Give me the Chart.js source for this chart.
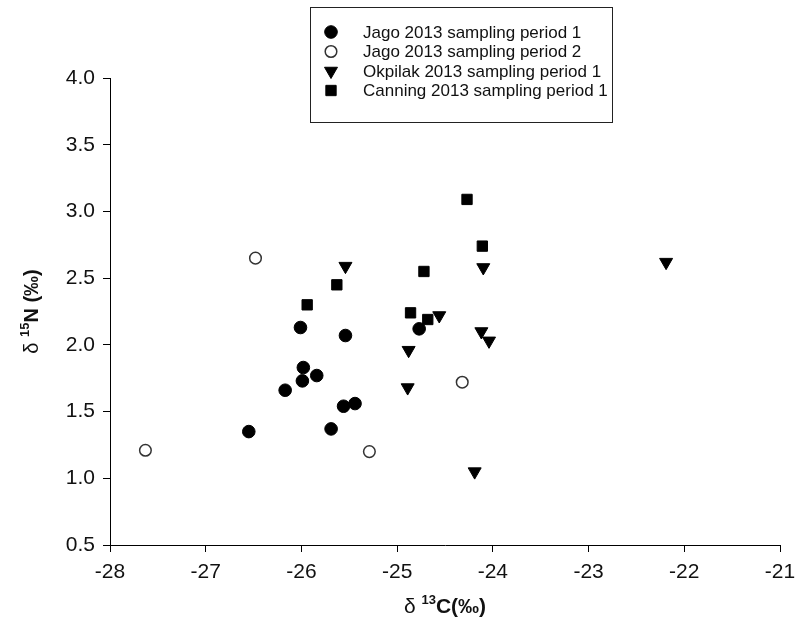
<!DOCTYPE html>
<html>
<head>
<meta charset="utf-8">
<script src="https://cdn.jsdelivr.net/npm/chart.js@4/dist/chart.umd.min.js"></script>
<style>
  html, body { margin: 0; padding: 0; background: #fff; }
  #c { display: block; }
</style>
</head>
<body>
<canvas id="c" width="796" height="636"></canvas>
<script>
// ---- data ----
const seriesLabels = [
  'Jago 2013 sampling period 1',
  'Jago 2013 sampling period 2',
  'Okpilak 2013 sampling period 1',
  'Canning 2013 sampling period 1'
];
const jago1X = [-26.55, -26.01, -25.54, -25.98, -25.84, -25.99, -26.17, -25.44, -25.56, -25.69, -24.77];
const jago1Y = [1.35, 2.13, 2.07, 1.83, 1.77, 1.73, 1.66, 1.56, 1.54, 1.37, 2.12];
const jago2X = [-27.63, -26.48, -25.29, -24.32];
const jago2Y = [1.21, 2.65, 1.20, 1.72];
const okpX = [-25.54, -24.10, -24.56, -24.12, -24.04, -24.88, -24.89, -24.19, -22.19];
const okpY = [2.59, 2.58, 2.22, 2.10, 2.03, 1.96, 1.68, 1.05, 2.62];
const canX = [-24.27, -24.11, -24.72, -25.63, -25.94, -24.86, -24.68];
const canY = [3.09, 2.74, 2.55, 2.45, 2.30, 2.24, 2.19];
const xTicks = [-28, -27, -26, -25, -24, -23, -22, -21];
const yTicks = [0.5, 1.0, 1.5, 2.0, 2.5, 3.0, 3.5, 4.0];

const toPts = (xs, ys) => xs.map((x, i) => ({ x: x, y: ys[i] }));

const FONT = "'Liberation Sans', Arial, sans-serif";

const datasets = [
  { label: seriesLabels[0], data: toPts(jago1X, jago1Y), pointStyle: 'circle', radius: 6.3,
    backgroundColor: '#000', borderColor: '#000', borderWidth: 1 },
  { label: seriesLabels[1], data: toPts(jago2X, jago2Y), pointStyle: 'circle', radius: 5.8,
    backgroundColor: '#fff', borderColor: '#333', borderWidth: 1.5 },
  { label: seriesLabels[2], data: toPts(okpX, okpY), pointStyle: 'triangle', rotation: 180, radius: 7.5,
    backgroundColor: '#000', borderColor: '#000', borderWidth: 1 },
  { label: seriesLabels[3], data: toPts(canX, canY), pointStyle: 'rect', radius: 7.3,
    backgroundColor: '#000', borderColor: '#000', borderWidth: 1 }
];
datasets.forEach(d => { d.pointRadius = d.radius; d.pointRotation = d.rotation || 0; d.pointHoverRadius = d.radius; });

function drawMarker(ctx, style, x, y, r, fill, stroke, lw) {
  ctx.save();
  ctx.beginPath();
  if (style === 'circle') {
    ctx.arc(x, y, r, 0, Math.PI * 2);
  } else if (style === 'triangle') {
    const h = Math.sqrt(3) / 2 * r;
    ctx.moveTo(x, y + r);
    ctx.lineTo(x - h, y - r / 2);
    ctx.lineTo(x + h, y - r / 2);
    ctx.closePath();
  } else {
    const s = Math.SQRT1_2 * r;
    ctx.rect(x - s, y - s, 2 * s, 2 * s);
  }
  ctx.fillStyle = fill; ctx.fill();
  ctx.lineWidth = lw; ctx.strokeStyle = stroke; ctx.stroke();
  ctx.restore();
}

function drawRich(ctx, parts, cx, cy) {
  let total = 0;
  parts.forEach(p => { ctx.font = p.font; p.w = ctx.measureText(p.t).width; total += p.w; });
  let x = cx - total / 2;
  ctx.textBaseline = 'middle';
  ctx.textAlign = 'left';
  parts.forEach(p => { ctx.font = p.font; ctx.fillText(p.t, x, cy + (p.dy || 0)); x += p.w; });
}

const decorPlugin = {
  id: 'decor',
  afterDraw(chart) {
    const ctx = chart.ctx;
    const ca = chart.chartArea;
    ctx.save();
    ctx.fillStyle = '#111';
    // x title
    drawRich(ctx, [
      { t: 'δ ', font: `21px ${FONT}` },
      { t: '13', font: `bold 13px ${FONT}`, dy: -7 },
      { t: 'C(‰)', font: `bold 21px ${FONT}` }
    ], (ca.left + ca.right) / 2, 607);
    // y title
    ctx.save();
    ctx.translate(32, (ca.top + ca.bottom) / 2);
    ctx.rotate(-Math.PI / 2);
    drawRich(ctx, [
      { t: 'δ ', font: `20px ${FONT}` },
      { t: '15', font: `bold 13px ${FONT}`, dy: -7 },
      { t: 'N (‰)', font: `bold 20px ${FONT}` }
    ], 0, 0);
    ctx.restore();
    // legend box
    ctx.strokeStyle = '#222';
    ctx.lineWidth = 1;
    ctx.strokeRect(310.5, 7.5, 302, 115);
    const rows = [32, 51.5, 71, 90.5];
    chart.data.datasets.forEach((d, i) => {
      drawMarker(ctx, d.pointStyle, 331, rows[i], d.radius, d.backgroundColor, d.borderColor, d.borderWidth);
      ctx.fillStyle = '#111';
      ctx.font = `17px ${FONT}`;
      ctx.textAlign = 'left';
      ctx.textBaseline = 'middle';
      ctx.fillText(d.label, 363, rows[i] + 1);
    });
    ctx.restore();
  }
};

new Chart(document.getElementById('c'), {
  type: 'scatter',
  data: { datasets: datasets },
  plugins: [decorPlugin],
  options: {
    responsive: false,
    animation: false,
    devicePixelRatio: 1,
    layout: { padding: { top: 78, right: 16, left: 0, bottom: 0 } },
    plugins: { legend: { display: false }, tooltip: { enabled: false } },
    scales: {
      x: {
        type: 'linear', min: -28, max: -21,
        afterBuildTicks: s => { s.ticks = xTicks.map(v => ({ value: v })); },
        afterFit: s => { s.height = 91; s.paddingLeft = 0; s.paddingRight = 0; },
        grid: { display: true, drawOnChartArea: false, drawTicks: true, tickLength: 7, color: '#000', lineWidth: 1 },
        border: { display: true, color: '#000', width: 1 },
        ticks: { color: '#111', font: { family: FONT, size: 21 }, padding: 8, maxRotation: 0,
                 callback: v => String(v) }
      },
      y: {
        type: 'linear', min: 0.5, max: 4.0,
        afterBuildTicks: s => { s.ticks = yTicks.map(v => ({ value: v })); },
        afterFit: s => { s.width = 110; s.paddingTop = 0; s.paddingBottom = 0; },
        grid: { display: true, drawOnChartArea: false, drawTicks: true, tickLength: 7, color: '#000', lineWidth: 1 },
        border: { display: true, color: '#000', width: 1 },
        ticks: { color: '#111', font: { family: FONT, size: 21 }, padding: 8,
                 callback: v => Number(v).toFixed(1) }
      }
    }
  }
});
</script>
</body>
</html>
